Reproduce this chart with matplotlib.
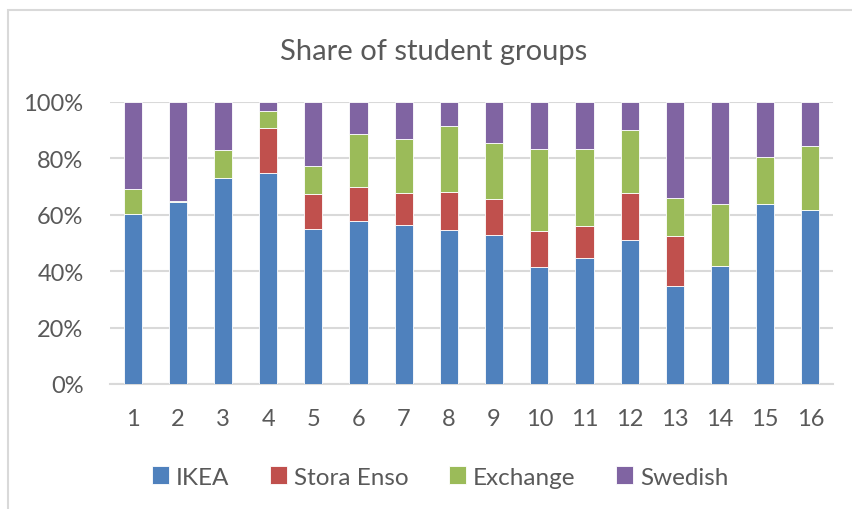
import matplotlib
matplotlib.use("Agg")
import matplotlib.pyplot as plt
from matplotlib.patches import Rectangle
import numpy as np

plt.rcParams['font.family'] = ['Lato', 'DejaVu Sans']

categories = [str(i) for i in range(1, 17)]
ikea = [60.3, 64.4, 73.0, 74.9, 55.0, 57.8, 56.3, 54.6, 52.7, 41.5, 44.7, 51.2, 34.8, 41.7, 63.7, 61.6]
stora = [0.0, 0.0, 0.0, 15.8, 12.4, 12.1, 11.3, 13.4, 12.8, 12.8, 11.3, 16.4, 17.7, 0.0, 0.0, 0.0]
exchange = [9.0, 0.6, 10.0, 6.2, 10.0, 18.8, 19.4, 23.6, 20.1, 28.9, 27.5, 22.5, 13.5, 22.0, 16.8, 22.9]
swedish = [30.7, 35.0, 17.0, 3.1, 22.6, 11.3, 13.0, 8.4, 14.4, 16.8, 16.5, 9.9, 34.0, 36.3, 19.5, 15.5]
series_names = ['IKEA', 'Stora Enso', 'Exchange', 'Swedish']
colors = ['#4F81BD', '#C0504D', '#9BBB59', '#8064A2']

fig = plt.figure(figsize=(8.52, 5.10), dpi=100)
ax = fig.add_axes([110/852, 1-385/510, (833-110)/852, (385-103)/510])

x = np.arange(1, 17)
data = [ikea, stora, exchange, swedish]
totals = np.sum(np.array(data), axis=0)
bottom = np.zeros(16)
handles = []
for vals, c, name in zip(data, colors, series_names):
    v = np.array(vals) / totals
    h = ax.bar(x, v, 0.4, bottom=bottom, color=c, edgecolor='#ffffff', linewidth=0.6,
               label=name, zorder=3)
    handles.append(h)
    bottom += v

ax.set_xlim(0.5, 16.5)
ax.set_ylim(0, 1)
ax.set_yticks(np.arange(0, 1.01, 0.2))
ax.set_yticklabels([f"{int(round(t*100))}%" for t in np.arange(0, 1.01, 0.2)])
ax.set_xticks(x)
ax.set_xticklabels(categories)
ax.yaxis.grid(True, color='#D9D9D9', linewidth=1.5, zorder=0)
ax.set_axisbelow(True)
for s in ['top', 'right', 'left']:
    ax.spines[s].set_visible(False)
ax.spines['bottom'].set_color('#D9D9D9')
ax.spines['bottom'].set_linewidth(1.5)
ax.tick_params(axis='both', length=0, labelsize=17, labelcolor='#595959')
ax.tick_params(axis='y', pad=19)
ax.tick_params(axis='x', pad=17)

fig.text(434/852, 1-52/510, 'Share of student groups', ha='center', va='center',
         fontsize=21, color='#595959')

leg = fig.legend(handles=handles, labels=series_names, loc='center',
                 bbox_to_anchor=(440/852, 1-478/510), ncol=4, frameon=False,
                 fontsize=17.5, handlelength=0.7, handleheight=0.7,
                 handletextpad=0.3, columnspacing=1.65, labelcolor='#595959')

fig.patches.append(Rectangle((8/852, -0.1), 1.0, 1-11/510+0.1, transform=fig.transFigure,
                             fill=False, edgecolor='#D9D9D9', linewidth=1.5, clip_on=False))

fig.savefig('out.png', dpi=100)
